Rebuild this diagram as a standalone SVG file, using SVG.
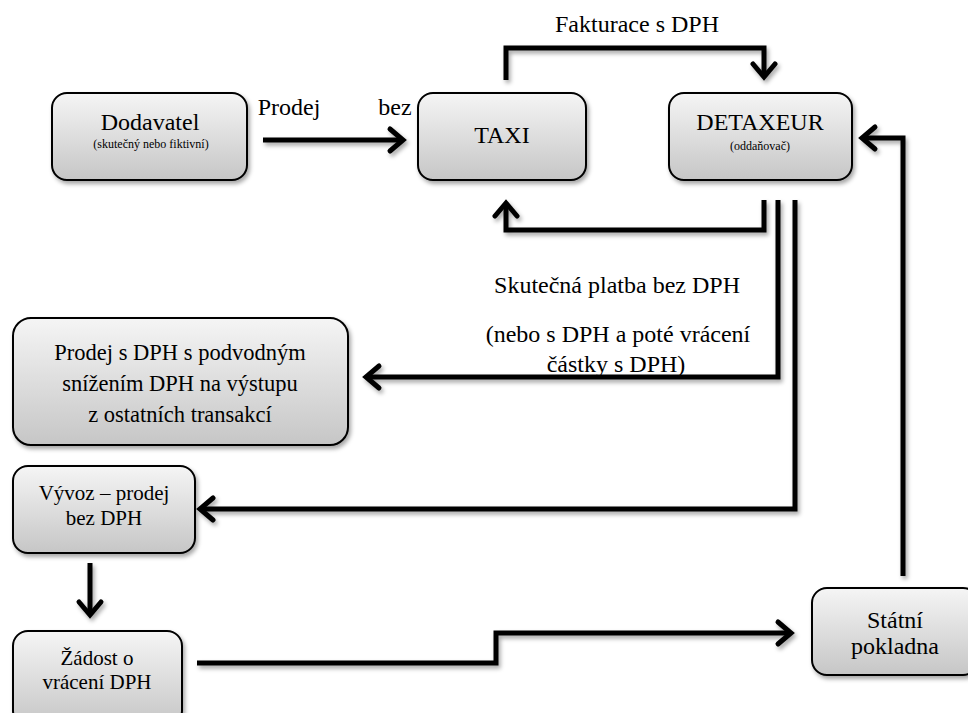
<svg xmlns="http://www.w3.org/2000/svg" width="968" height="713" viewBox="0 0 968 713">
<style>
text{fill:#000;text-anchor:middle}
.box{fill:url(#g);stroke:#000;stroke-width:2;filter:url(#sh)}
.big{font-size:24px}
.mid{font-size:22.5px}
.sm{font-size:21px}
.sub{font-size:12px}
.lbl{font-size:24px}
.c{fill:none;stroke:#000;stroke-width:5;stroke-linejoin:miter;marker-end:url(#ah)}
</style>
<defs>
<linearGradient id="g" x1="0" y1="0" x2="0" y2="1">
<stop offset="0" stop-color="#f5f5f5"/>
<stop offset="1" stop-color="#c6c6c6"/>
</linearGradient>
<filter id="sh" x="-10%" y="-10%" width="130%" height="140%">
<feDropShadow dx="2" dy="3" stdDeviation="2" flood-color="#000" flood-opacity="0.35"/>
</filter>
<marker id="ah" markerUnits="userSpaceOnUse" viewBox="-16 -15 20 30" refX="0" refY="0" markerWidth="20" markerHeight="30" orient="auto" overflow="visible">
<path d="M-13,-11 L0,0 L-13,11" fill="none" stroke="#000" stroke-width="5" stroke-linecap="round" stroke-linejoin="miter"/>
</marker>
</defs>
<rect width="968" height="713" fill="#fff"/>

<g id="connectors" filter="url(#sh)">
<path class="c" d="M263,140 H403"/>
<path class="c" d="M506,80 V48 H764 V77"/>
<path class="c" d="M764,200 V230 H506 V203"/>
<path class="c" d="M778,200 V377 H366"/>
<path class="c" d="M795,200 V509 H200"/>
<path class="c" d="M90,563 V615"/>
<path class="c" d="M197,663 H496 V633 H791"/>
<path class="c" d="M903,576 V138 H862"/>
</g>

<g font-family="Liberation Serif, serif">
<g id="labels">
<text class="lbl" x="637" y="32">Fakturace s DPH</text>
<text class="lbl" x="289" y="115">Prodej</text>
<text class="lbl" x="395" y="115">bez</text>
<text class="lbl" x="617" y="293">Skutečná platba bez DPH</text>
<text class="lbl" x="618" y="342">(nebo s DPH a poté vrácení</text>
<text class="lbl" x="616" y="372">částky s DPH)</text>
</g>

<g id="dodavatel">
<rect class="box" x="52" y="93" width="195" height="87" rx="15"/>
<text class="big" x="150" y="130">Dodavatel</text>
<text class="sub" x="151" y="148">(skutečný nebo fiktivní)</text>
</g>
<g id="taxi">
<rect class="box" x="418" y="93" width="168" height="87" rx="15"/>
<text class="big" x="502" y="143">TAXI</text>
</g>
<g id="detaxeur">
<rect class="box" x="669" y="93" width="183" height="87" rx="15"/>
<text class="big" x="760" y="130">DETAXEUR</text>
<text class="sub" x="760" y="150">(oddaňovač)</text>
</g>
<g id="prodej-dph">
<rect class="box" x="13" y="318" width="335" height="127" rx="18"/>
<text class="mid" x="180" y="360">Prodej s DPH s podvodným</text>
<text class="mid" x="180" y="391">snížením DPH na výstupu</text>
<text class="mid" x="180" y="422">z ostatních transakcí</text>
</g>
<g id="vyvoz">
<rect class="box" x="13" y="466" width="182" height="87" rx="15"/>
<text class="sm" x="104" y="500">Vývoz – prodej</text>
<text class="sm" x="104" y="525">bez DPH</text>
</g>
<g id="zadost">
<rect class="box" x="13" y="631" width="169" height="95" rx="15"/>
<text class="sm" x="97" y="665">Žádost o</text>
<text class="sm" x="97" y="689">vrácení DPH</text>
</g>
<g id="statni-pokladna">
<rect class="box" x="812" y="588" width="166" height="87" rx="15"/>
<text class="big" x="895" y="628">Státní</text>
<text class="big" x="895" y="654">pokladna</text>
</g>
</g>
</svg>
